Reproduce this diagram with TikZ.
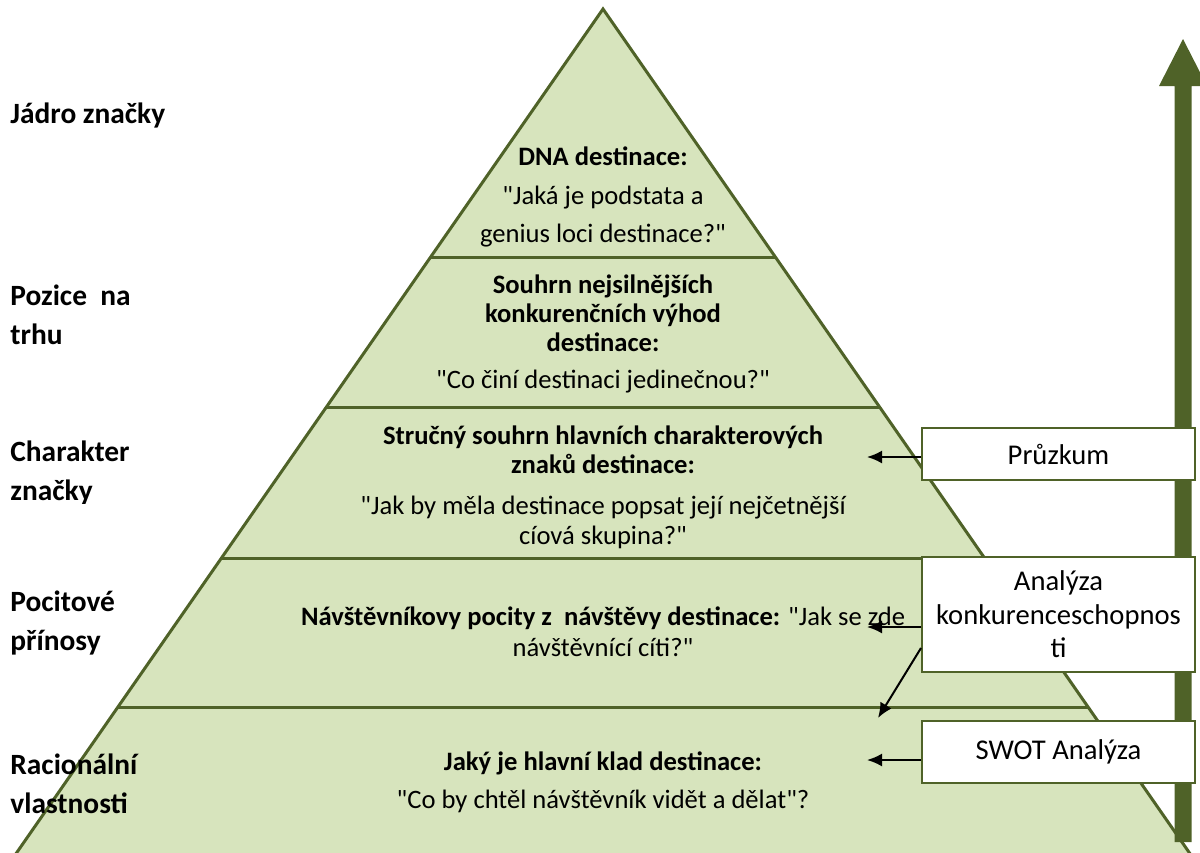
\documentclass[tikz,border=0pt]{standalone}
\usepackage{fontspec}
\setmainfont{Carlito}[Ligatures=TeXOff]
\usetikzlibrary{arrows.meta}
\definecolor{pyrfill}{HTML}{D7E4BD}
\definecolor{olive}{HTML}{4F6228}
\begin{document}
\begin{tikzpicture}[x=0.5pt,y=-0.5pt,
  pyr/.style={fill=pyrfill,draw=olive,line width=1.5pt,line join=miter},
  level/.style={draw=olive,line width=1.5pt},
  ptext/.style={align=center,inner sep=0pt,font=\fontsize{13.3}{19.25}\selectfont},
  pbold/.style={align=center,inner sep=0pt,font=\bfseries\fontsize{13.3}{14.5}\selectfont},
  side/.style={anchor=west,align=left,inner sep=0pt,font=\bfseries\fontsize{14.7}{19.5}\selectfont},
  bigarrow/.style={fill=olive},
  box/.style={draw=olive,line width=1pt,fill=white,minimum width=136.5pt,inner sep=2pt,align=center,font=\fontsize{14.3}{16.75}\selectfont},
  conn/.style={draw=black,line width=1pt,-{Latex[length=7.5pt,width=6.5pt]}}
]
\useasboundingbox (0,0) rectangle (1200,852);
\begin{scope}
\clip (0,0) rectangle (1200,852);
% pyramid
\coordinate (apex) at (603,9);
\coordinate (bl) at (-2.3,880);
\coordinate (br) at (1208.3,880);
\path[pyr] (apex) -- (br) -- (bl) -- cycle;
\draw[level] (430.6,257) -- (775.4,257);
\draw[level] (326.4,407) -- (879.6,407);
\draw[level] (221.4,558) -- (984.6,558);
\draw[level] (117.9,707) -- (1088.1,707);
% big arrow
\fill[bigarrow] (1174.5,842) -- (1174.5,86) -- (1159,86) -- (1183,39) -- (1207,86) -- (1191.5,86) -- (1191.5,842) -- cycle;
\end{scope}

% pyramid texts
\node[ptext] (dna) at (603,197) {\textbf{DNA destinace:}\\"Jaká je podstata a\\genius loci destinace?"};
\node[pbold] (souhrn) at (603,313) {Souhrn nejsilnějších\\konkurenčních výhod\\destinace:};
\node[ptext] (souhrnq) at (603,382) {"Co činí destinaci jedinečnou?"};
\node[pbold] (strucny) at (603,450) {Stručný souhrn hlavních charakterových\\znaků destinace:};
\node[ptext,font=\fontsize{13.3}{15}\selectfont] (strucnyq) at (603,522) {"Jak by měla destinace popsat její nejčetnější\\cíová skupina?"};
\node[ptext,font=\fontsize{13.3}{15.5}\selectfont] (pocity) at (603,632) {\textbf{Návštěvníkovy pocity z\ \ návštěvy destinace:} "Jak se zde\\návštěvnící cíti?"};
\node[pbold] (klad) at (603,763) {Jaký je hlavní klad destinace:};
\node[ptext] (kladq) at (603,801) {"Co by chtěl návštěvník vidět a dělat"?};

% side labels
\node[side] (l1) at (10,115) {Jádro značky};
\node[side] (l2) at (10,315) {Pozice\ \ na\\trhu};
\begin{scope}
\clip (0,400) rectangle (300,503);
\node[side] (l3) at (10,473) {Charakter\\značky};
\end{scope}
\node[side] (l4) at (10,623) {Pocitové\\přínosy};
\node[side] (l5) at (10,784) {Racionální\\vlastnosti};

% boxes
\node[box,minimum height=26pt] (prz) at (1058.5,454) {Průzkum};
\node[box,minimum height=57.5pt] (ana) at (1058.5,614.5) {Analýza\\konkurenceschopnos\\ti};
\node[box,minimum height=31pt] (swot) at (1058.5,752) {SWOT Analýza};

% connectors
\coordinate (t1) at (867,457);
\coordinate (t2) at (867,627);
\coordinate (t3) at (878,718);
\coordinate (t4) at (867,760);
\draw[conn] (prz.west |- t1) -- (t1);
\draw[conn] (ana.west |- t2) -- (t2);
\draw[conn] ([yshift=-16.75pt]ana.west) -- (t3);
\draw[conn] (swot.west |- t4) -- (t4);
\end{tikzpicture}
\end{document}
